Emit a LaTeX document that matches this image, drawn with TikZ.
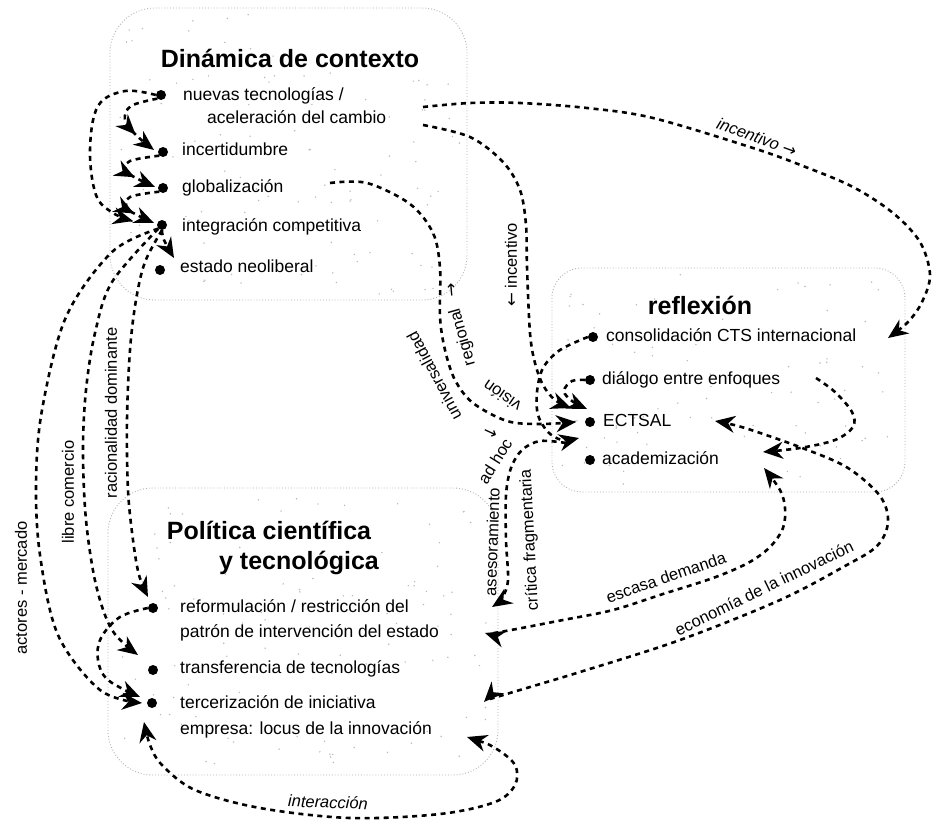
\documentclass[tikz,border=0pt]{standalone}
\usepackage{fontspec}
\setmainfont{Liberation Sans}
\newfontfamily\symfont{DejaVu Sans}
\usetikzlibrary{arrows.meta,decorations.markings}
\tikzset{
  conn/.style={line width=2.6pt, dash pattern=on 5pt off 4.5pt, ->},
  conntwo/.style={line width=2.6pt, dash pattern=on 5pt off 4.5pt, <->},
  midarrow/.style={postaction={decorate, decoration={markings, mark=at position #1 with {\arrow{>}}}}},
  bullet/.style={circle, fill=black, inner sep=0pt, minimum size=10pt},
  item/.style={font=\fontsize{17.5}{19}\selectfont, anchor=west, inner sep=0pt, text height=12pt, text depth=3.5pt},
  boxtitle/.style={font=\bfseries\fontsize{25}{28}\selectfont, inner sep=0pt},
  lbl/.style={font=\fontsize{16.5}{18}\selectfont, inner sep=0pt},
  ilbl/.style={font=\itshape\fontsize{16.5}{18}\selectfont, inner sep=0pt},
  area/.style={draw=gray!60, dotted, line width=0.9pt},
  speck/.style={fill=gray!55},
}
\begin{document}
\begin{tikzpicture}[x=1pt,y=-1pt,>={Stealth[length=20pt,width=17pt,inset=6.5pt]}]
\useasboundingbox (0,0) rectangle (937,821);
\fill[white] (0,0) rectangle (937,821);

% boxes
\draw[area, rounded corners=45pt] (110,8) rectangle (467,300);
\draw[area, rounded corners=30pt] (552,268) rectangle (905,492);
\draw[area, rounded corners=45pt] (108,488) rectangle (498,775);
% speckle texture of the scanned boxes
\pgfmathsetseed{4711}
\foreach \k in {1,...,110} {\fill[speck] ({118+rnd*342},{14+rnd*280}) circle (0.8pt);}
\foreach \k in {1,...,80} {\fill[speck] ({560+rnd*338},{274+rnd*212}) circle (0.8pt);}
\foreach \k in {1,...,110} {\fill[speck] ({116+rnd*375},{494+rnd*275}) circle (0.8pt);}

% --- Dinamica de contexto
\node[boxtitle] (t-ctx) at (290,58) {Dinámica de contexto};
\node[bullet] (b-nuevas) at (161,95) {};
\node[item] (i-nuevas) at (183,96) {nuevas tecnologías /};
\node[item] (i-acel) at (207,119) {aceleración del cambio};
\node[bullet] (b-incert) at (163,152) {};
\node[item] (i-incert) at (182,151) {incertidumbre};
\node[bullet] (b-glob) at (163,188) {};
\node[item] (i-glob) at (182,188) {globalización};
\node[bullet] (b-integ) at (162,225) {};
\node[item] (i-integ) at (182,227) {integración competitiva};
\node[bullet] (b-estado) at (160,270) {};
\node[item] (i-estado) at (180,268) {estado neoliberal};

% --- reflexion
\node[boxtitle] (t-ref) at (700,305) {reflexión};
\node[bullet] (b-cons) at (593,337) {};
\node[item] (i-cons) at (606,337) {consolidación CTS internacional};
\node[bullet] (b-dial) at (590,380) {};
\node[item] (i-dial) at (602,380) {diálogo entre enfoques};
\node[bullet] (b-ect) at (590,422) {};
\node[item] (i-ect) at (603,422) {ECTSAL};
\node[bullet] (b-acad) at (590,460) {};
\node[item] (i-acad) at (602,460) {academización};

% --- politica
\node[boxtitle] (t-pol1) at (269,530) {Política científica};
\node[boxtitle] (t-pol2) at (299,563) {y tecnológica};
\node[bullet] (b-refo) at (153,608) {};
\node[item] (i-refo1) at (180,608) {reformulación / restricción del};
\node[item] (i-refo2) at (180,633) {patrón de intervención del estado};
\node[bullet] (b-trans) at (153,670) {};
\node[item] (i-trans) at (180,669) {transferencia de tecnologías};
\node[bullet] (b-terc) at (152,703) {};
\node[item] (i-terc1) at (180,704) {tercerización de iniciativa};
\node[item] (i-terc2) at (180,730) {empresa: locus de la innovación};

% free ends
\coordinate (nu-e) at (423,107);
\coordinate (ac-e) at (423,125);
\coordinate (gl-e) at (330,183);
\coordinate (di-e) at (816,378);

% --- left chain in top box
\draw[conn] plot[smooth,tension=0.6] coordinates {(b-nuevas.west) (125,91) (98,106) (90,150) (96,195) (113,213) (133,221)};
\draw[conn,midarrow=0.72] plot[smooth,tension=0.6] coordinates {(b-nuevas.south west) (131,106) (125,120) (136,135) (154,150)};
\draw[conn,midarrow=0.7] plot[smooth,tension=0.6] coordinates {(b-incert.south west) (130,161) (126,171) (138,179) (155,187)};
\draw[conn,midarrow=0.7] plot[smooth,tension=0.6] coordinates {(b-glob.south west) (130,197) (127,208) (139,216) (154,223)};
\draw[conn] plot[smooth,tension=0.6] coordinates {(b-integ.south) (164,240) (174,258)};

% --- long arcs to politica
\draw[conn] plot[smooth,tension=0.55] coordinates {(b-integ.south west) (112,252) (66,317) (42,410) (36,483) (40,555) (58,635) (100,690) (142,703)};
\draw[conn] plot[smooth,tension=0.55] coordinates {(b-integ.south west) (112,282) (95,333) (86,390) (83,450) (86,520) (96,585) (112,630) (138,655)};
\draw[conn] plot[smooth,tension=0.55] coordinates {(b-integ.south) (145,262) (136,300) (130,350) (127,420) (128,490) (133,540) (139,575) (148,597)};
\node[lbl, rotate=90] (l-act) at (21,588) {actores - mercado};
\node[lbl, rotate=90] (l-lib) at (68,492) {libre comercio};
\node[lbl, rotate=90] (l-rac) at (111,413) {racionalidad dominante};

% --- bottom-left loop and interaccion
\draw[conn] plot[smooth,tension=0.6] coordinates {(b-refo.west) (120,617) (101,638) (98,660) (108,680) (140,697)};
\draw[conntwo] plot[smooth,tension=0.55] coordinates {(467,737) (495,748) (515,765) (515,785) (495,802) (440,814) (350,818) (260,808) (195,790) (162,765) (150,745) (144,722)};
\node[ilbl, rotate=-2] (l-int) at (328,802) {interacción};

% --- right side links
\draw[conntwo] plot[smooth,tension=0.55] coordinates {(484,702) (500,696) (580,672) (680,640) (780,600) (845,566) (877,546) (888,522) (880,496) (848,468) (805,449) (745,428) (715,421)};
\node[lbl, rotate=26] (l-eco) at (764,588) {economía de la innovación};
\draw[conntwo] plot[smooth,tension=0.55] coordinates {(485,633) (500,632) (563,620) (613,610) (663,594) (713,578) (748,563) (770,547) (783,528) (785,508) (780,490) (764,468)};
\node[lbl, rotate=19] (l-esc) at (666,577) {escasa demanda};
\draw[conn] plot[smooth,tension=0.55] coordinates {(di-e) (835,392) (852,412) (853,427) (835,440) (800,448) (763,452)};

% --- incentivo arcs
\draw[conn] plot[smooth,tension=0.55] coordinates {(nu-e) (470,103) (520,103) (587,108) (653,118) (753,148) (803,166) (853,187) (893,213) (920,242) (930,275) (922,302) (908,322) (888,338)};
\node[ilbl, rotate=-20] (l-inc1) at (757,137) {incentivo {\symfont\upshape →}};
\draw[conn] plot[smooth,tension=0.55] coordinates {(ac-e) (470,137) (503,162) (520,190) (526,225) (527,267) (530,333) (535,363) (543,385) (555,400) (571,408)};
\node[lbl, rotate=90] (l-inc2) at (511,265) {{\symfont ←} incentivo};

% --- globalizacion <-> ECTSAL
\draw[conn] plot[smooth,tension=0.55] coordinates {(gl-e) (367,183) (410,204) (433,233) (440,268) (440,317) (445,350) (455,380) (473,403) (507,421) (540,424) (576,422)};
\node[lbl, rotate=118] (l-uni) at (434,376) {universalidad};
\node[lbl, rotate=-25] (l-unia) at (490,433) {\symfont →};
\node[lbl, rotate=145] (l-vis1) at (502,396) {visión};
\node[lbl, rotate=106] (l-vis2) at (463,337) {regional};
\node[lbl, rotate=95] (l-visa) at (453,290) {\symfont →};

% --- reflexion internal
\draw[conn] plot[smooth,tension=0.6] coordinates {(b-dial.west) (572,381) (564,391) (572,401) (587,409)};
\draw[conn] plot[smooth,tension=0.55] coordinates {(b-cons.west) (560,350) (543,368) (537,392) (538,415) (548,432) (562,440) (579,438)};

% --- asesoramiento / critica
\draw[conn] plot[smooth,tension=0.55] coordinates {(566,443) (540,441) (522,450) (511,468) (506,495) (506,540) (508,580) (502,598) (492,607)};
\node[lbl, rotate=58] (l-ase2) at (495,461) {ad hoc};
\node[lbl, rotate=88] (l-ase1) at (492,542) {asesoramiento};
\node[lbl, rotate=93] (l-cri) at (530,540) {crítica fragmentaria};

\end{tikzpicture}
\end{document}
